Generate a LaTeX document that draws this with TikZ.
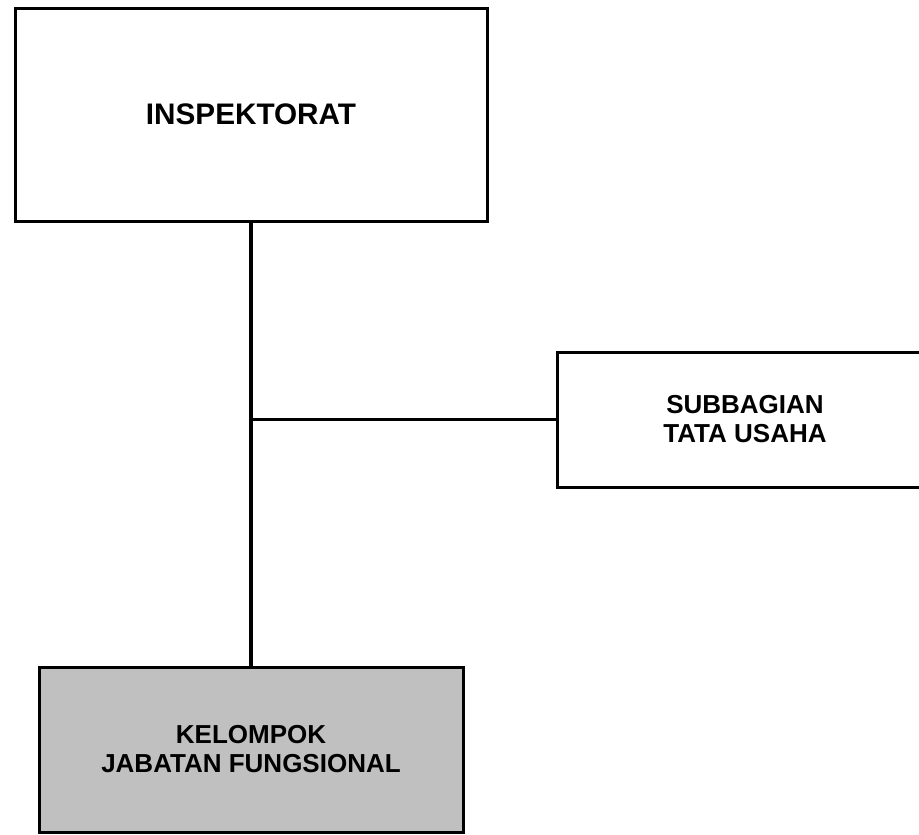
\documentclass[tikz,border=0pt]{standalone}
\usepackage{fontspec}
\setmainfont{Liberation Sans}
\usepackage{xcolor}
\usepackage{tikz}
\definecolor{boxgray}{RGB}{192,192,192}

\begin{document}
\begin{tikzpicture}[x=1pt,y=-1pt,line width=3.8pt,
	unit/.style={draw,rectangle,line width=3pt,align=center,inner sep=0pt,font=\bfseries\fontsize{26}{29}\selectfont}]
		\useasboundingbox (0,0) rectangle (919,835);
		\node[unit,minimum width=472pt,minimum height=213pt,font=\bfseries\fontsize{29.7}{33}\selectfont] (inspektorat) at (251,114.5) {INSPEKTORAT};
		\node[unit,minimum width=376pt,minimum height=135pt] (subbagian) at (745,419.5) {SUBBAGIAN\\TATA USAHA};
		\node[unit,fill=boxgray,minimum width=424pt,minimum height=165pt] (kelompok) at (251,749.5) {KELOMPOK\\JABATAN FUNGSIONAL};

		\draw (inspektorat.south) -- (kelompok.north);
		\draw (subbagian.west) -- (subbagian.west -| inspektorat.south);
\end{tikzpicture}
\end{document}
